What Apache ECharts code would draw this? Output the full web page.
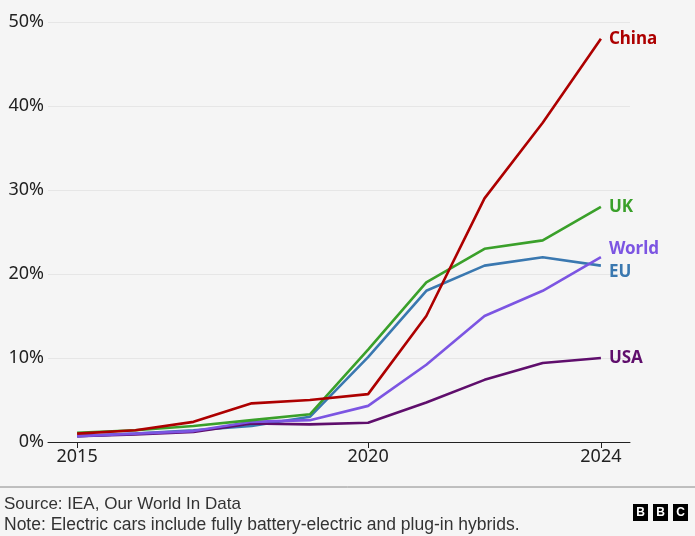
<!DOCTYPE html>
<html>
<head>
<meta charset="utf-8">
<script src="https://cdn.jsdelivr.net/npm/echarts@6/dist/echarts.min.js"></script>
<style>
html,body{margin:0;padding:0;background:#f5f5f5;}
#chart{width:695px;height:536px;}
</style>
</head>
<body>
<div id="chart"></div>
<script>
const years = ['2015','2016','2017','2018','2019','2020','2021','2022','2023','2024'];
const shownYears = ['2015','2020','2024'];
const china = [1.0, 1.4, 2.4, 4.6, 5.0, 5.7, 15.0, 29.0, 38.0, 48.0];
const uk    = [1.1, 1.4, 1.9, 2.6, 3.3, 11.0, 19.0, 23.0, 24.0, 28.0];
const eu    = [0.7, 1.0, 1.4, 1.9, 3.0, 10.1, 18.0, 21.0, 22.0, 21.0];
const world = [0.7, 1.0, 1.3, 2.4, 2.6, 4.3, 9.2, 15.0, 18.0, 22.0];
const usa   = [0.7, 0.9, 1.2, 2.2, 2.1, 2.3, 4.7, 7.4, 9.4, 10.0];
const yTicks = [0, 10, 20, 30, 40, 50];
const sourceText = 'Source: IEA, Our World In Data';
const noteText = 'Note: Electric cars include fully battery-electric and plug-in hybrids.';

const font = '"Noto Sans", "Open Sans", sans-serif';
const narrow = '"Liberation Sans Narrow", "Liberation Sans", sans-serif';

function mk(name, data, color, dy) {
  return {
    name: name, type: 'line', data: data, symbol: 'none', smooth: false,
    lineStyle: {color: color, width: 2.6}, itemStyle: {color: color},
    emphasis: {disabled: true}, animation: false,
    endLabel: {show: true, formatter: name, color: color, fontFamily: font,
      fontWeight: 'bold', fontSize: 17, distance: 8, offset: [0, dy]}
  };
}

const chart = echarts.init(document.getElementById('chart'));
chart.setOption({
  backgroundColor: '#f5f5f5',
  animation: false,
  grid: {left: 48, right: 65, top: 22, bottom: 94, containLabel: false},
  xAxis: {
    type: 'category', data: years, boundaryGap: true,
    axisLine: {lineStyle: {color: '#222', width: 1}},
    axisTick: {show: true, alignWithLabel: true, length: 6, lineStyle: {color: '#222'},
      interval: (i, v) => shownYears.includes(v)},
    axisLabel: {interval: (i, v) => shownYears.includes(v), color: '#222', fontSize: 18,
      fontFamily: font, margin: 6},
    splitLine: {show: false}
  },
  yAxis: {
    type: 'value', min: yTicks[0], max: yTicks[yTicks.length - 1], interval: 10,
    axisLine: {show: false}, axisTick: {show: false},
    axisLabel: {formatter: '{value}%', color: '#222', fontSize: 18, fontFamily: font, margin: 4},
    splitLine: {lineStyle: {color: '#e6e6e6', width: 1}}
  },
  series: [
    mk('EU', eu, '#3a78b0', 7),
    mk('USA', usa, '#5f0e6c', 0),
    mk('World', world, '#7c55e2', -8),
    mk('UK', uk, '#3aa02a', 0),
    mk('China', china, '#ad0000', 0)
  ],
  graphic: [
    {type: 'line', shape: {x1: 0, y1: 487, x2: 695, y2: 487}, style: {stroke: '#888', lineWidth: 1}},
    {type: 'text', left: 4, top: 496, style: {text: sourceText, font: '17px ' + narrow, fill: '#333'}},
    {type: 'text', left: 4, top: 516, style: {text: noteText, font: '17.5px ' + narrow, fill: '#333'}},
    {type: 'group', left: 633, top: 504, children: [
      {type: 'rect', shape: {x: 0, y: 0, width: 15, height: 17}, style: {fill: '#000'}},
      {type: 'text', x: 7.5, y: 8.5, style: {text: 'B', font: 'bold 12px "Liberation Sans"', fill: '#fff', align: 'center', verticalAlign: 'middle'}},
      {type: 'rect', shape: {x: 20, y: 0, width: 15, height: 17}, style: {fill: '#000'}},
      {type: 'text', x: 27.5, y: 8.5, style: {text: 'B', font: 'bold 12px "Liberation Sans"', fill: '#fff', align: 'center', verticalAlign: 'middle'}},
      {type: 'rect', shape: {x: 40, y: 0, width: 15, height: 17}, style: {fill: '#000'}},
      {type: 'text', x: 47.5, y: 8.5, style: {text: 'C', font: 'bold 12px "Liberation Sans"', fill: '#fff', align: 'center', verticalAlign: 'middle'}}
    ]}
  ]
});
</script>
</body>
</html>
